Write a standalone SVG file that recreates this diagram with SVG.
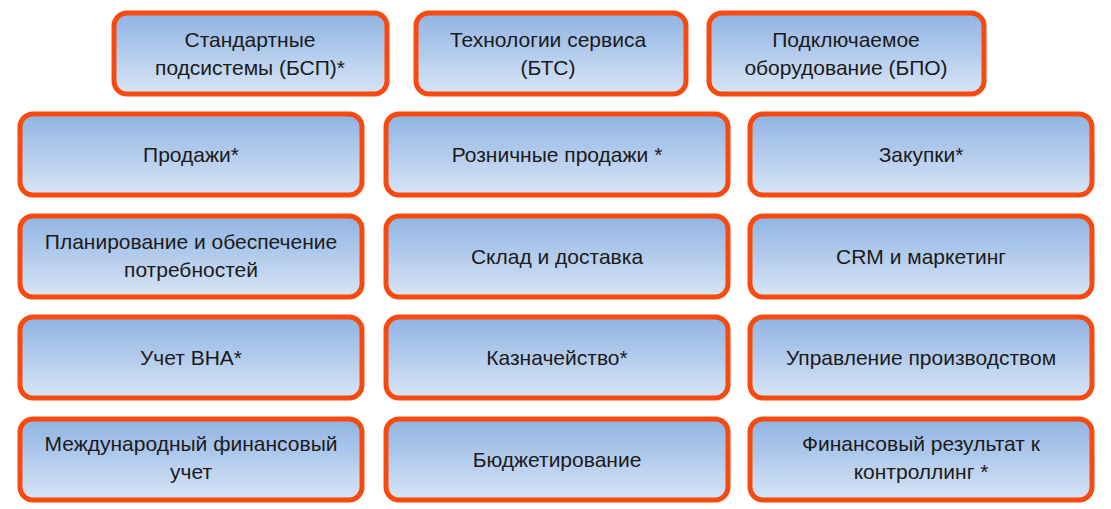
<svg xmlns="http://www.w3.org/2000/svg" width="1111" height="509" viewBox="0 0 1111 509">
<defs>
<linearGradient id="g" x1="0" y1="0" x2="0" y2="1"><stop offset="0" stop-color="#8fb3e2"/><stop offset="1" stop-color="#d8e5f6"/></linearGradient>
<style>
.b{fill:url(#g);stroke:#f84a0e;stroke-width:5}
text{font-family:"Liberation Sans",Arial,sans-serif;font-size:21px;fill:#1a1a1a;text-anchor:middle}
</style>
</defs>
<rect width="1111" height="509" fill="#fff"/>
<g id="connectors"/>
<g id="n1"><rect class="b" x="114" y="13" width="273" height="81" rx="13"/><text x="250" y="47">Стандартные</text><text x="250" y="75">подсистемы (БСП)*</text></g>
<g id="n2"><rect class="b" x="416" y="13" width="270" height="81" rx="13"/><text x="548" y="47">Технологии сервиса</text><text x="548" y="75">(БТС)</text></g>
<g id="n3"><rect class="b" x="709" y="13" width="275" height="81" rx="13"/><text x="846" y="47">Подключаемое</text><text x="846" y="75">оборудование (БПО)</text></g>
<g id="n4"><rect class="b" x="20" y="114" width="342" height="81" rx="13"/><text x="191" y="162">Продажи*</text></g>
<g id="n5"><rect class="b" x="386" y="114" width="342" height="81" rx="13"/><text x="557" y="162">Розничные продажи *</text></g>
<g id="n6"><rect class="b" x="750" y="114" width="342" height="81" rx="13"/><text x="921" y="162">Закупки*</text></g>
<g id="n7"><rect class="b" x="20" y="216" width="342" height="81" rx="13"/><text x="191" y="249">Планирование и обеспечение</text><text x="191" y="277">потребностей</text></g>
<g id="n8"><rect class="b" x="386" y="216" width="342" height="81" rx="13"/><text x="557" y="264">Склад и доставка</text></g>
<g id="n9"><rect class="b" x="750" y="216" width="342" height="81" rx="13"/><text x="921" y="264">CRM и маркетинг</text></g>
<g id="n10"><rect class="b" x="20" y="317" width="342" height="81" rx="13"/><text x="191" y="365">Учет ВНА*</text></g>
<g id="n11"><rect class="b" x="386" y="317" width="342" height="81" rx="13"/><text x="557" y="365">Казначейство*</text></g>
<g id="n12"><rect class="b" x="750" y="317" width="342" height="81" rx="13"/><text x="921" y="365">Управление производством</text></g>
<g id="n13"><rect class="b" x="20" y="419" width="342" height="81" rx="13"/><text x="191" y="451">Международный финансовый</text><text x="191" y="479">учет</text></g>
<g id="n14"><rect class="b" x="386" y="419" width="342" height="81" rx="13"/><text x="557" y="467">Бюджетирование</text></g>
<g id="n15"><rect class="b" x="750" y="419" width="342" height="81" rx="13"/><text x="921" y="451">Финансовый результат к</text><text x="921" y="479">контроллинг *</text></g>
</svg>
